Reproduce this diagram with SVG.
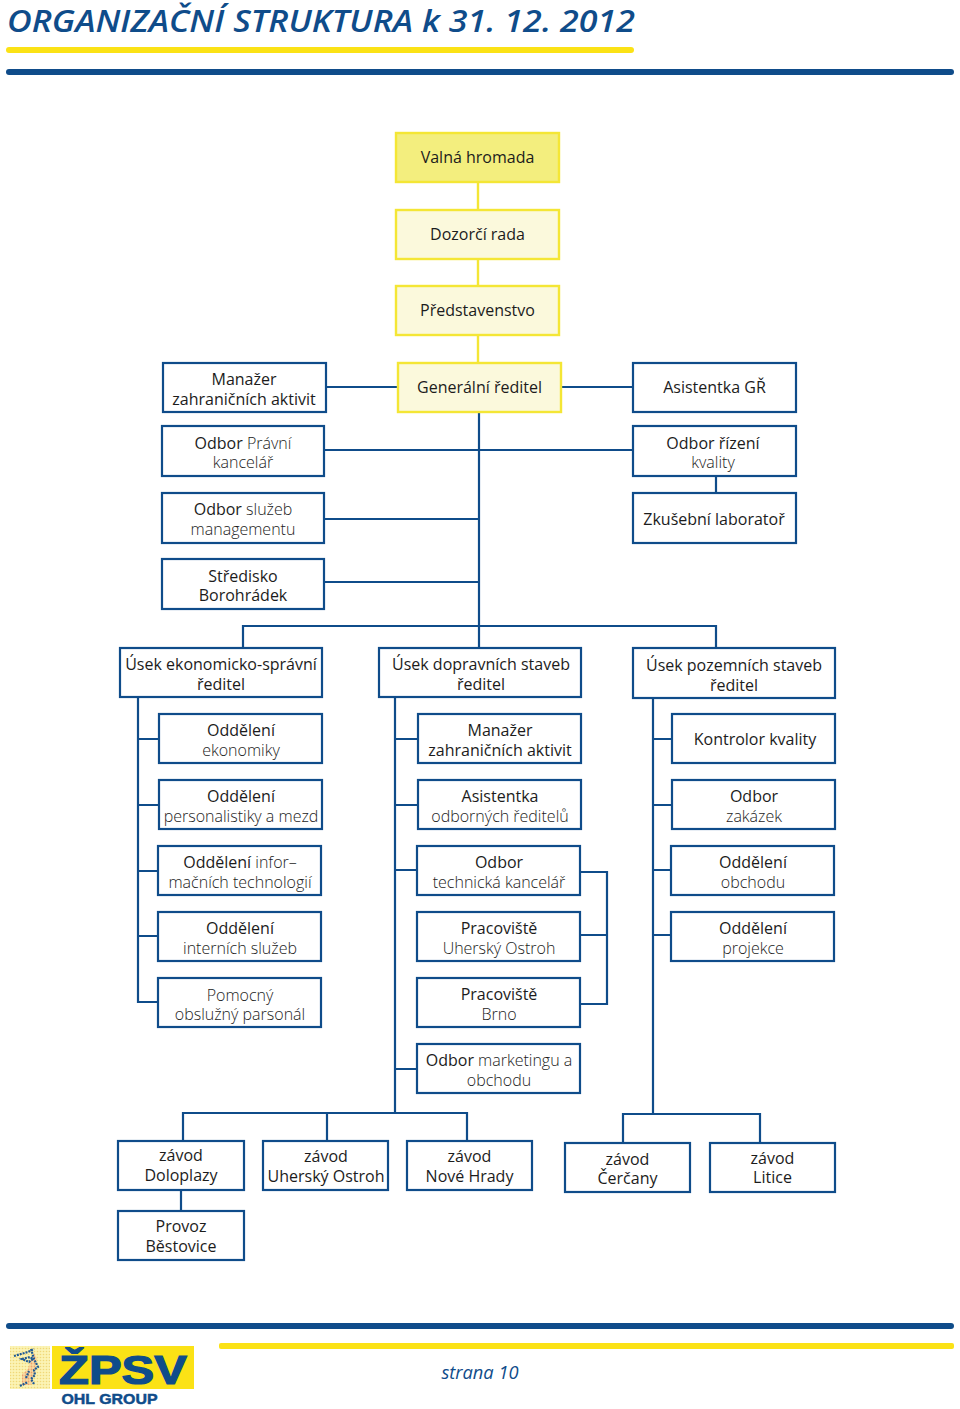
<svg xmlns="http://www.w3.org/2000/svg" width="960" height="1409" viewBox="0 0 960 1409">
<defs>
<pattern id="mos" width="3" height="3" patternUnits="userSpaceOnUse"><rect width="3" height="3" fill="#fbf3b4"/><circle cx="1.5" cy="1.5" r="0.8" fill="#f0d878"/></pattern>
<pattern id="mos2" width="3" height="3" patternUnits="userSpaceOnUse"><rect width="3" height="3" fill="#f7dca0"/><circle cx="1.5" cy="1.5" r="0.9" fill="#ee9f70"/></pattern>
</defs>
<style>
text{font-family:"Open Sans","Noto Sans","Liberation Sans",sans-serif;font-size:16px;text-anchor:middle;fill:#1c1c1c}
.l{font-weight:300;fill:#1c1c1c}
.b rect{fill:#fff;stroke:#0f4c8a;stroke-width:2.2}
.y rect{fill:#fbf9dc;stroke:#f4e635;stroke-width:2.4}
#conn path{fill:none;stroke:#0f4c8a;stroke-width:2.2}
#conn path.yc{stroke:#f4e635;stroke-width:2.4}
.bar{fill:#0f4c8a}.ybar{fill:#fbe216}
</style>
<rect width="960" height="1409" fill="#fff"/>
<text x="7" y="32" textLength="628" lengthAdjust="spacingAndGlyphs" style="font-size:31.5px;font-style:italic;font-weight:600;text-anchor:start;fill:#0f4c8a">ORGANIZAČNÍ STRUKTURA k 31. 12. 2012</text>
<rect class="ybar" x="6" y="47" width="628" height="6" rx="3"/>
<rect class="bar" x="6" y="69" width="948" height="6" rx="3"/>
<g id="conn">
<path class="yc" d="M478 182V210M478 259V286M478 335V363"/>
<path d="M326 387H398M561 387H633M479 412V648M324 450H633M324 519H479M324 582H479M716 476V493M243 648V626H716V648"/>
<path d="M138 697V1002H158M138 739H159M138 805H159M138 871H158M138 936H158"/>
<path d="M395 697V1113M395 739H418M395 805H418M395 870H417M395 1069H417"/>
<path d="M581 872H607V1004H581M581 935H607"/>
<path d="M653 698V1114M653 739H672M653 805H672M653 870H671M653 935H671"/>
<path d="M183 1141V1113H467V1141M327 1113V1141M181 1191V1211"/>
<path d="M623 1143V1114H760V1143"/>
</g>
<g id="n1" class="y"><rect x="396" y="133" width="163" height="49" style="fill:#f3ee7e"/><text x="477.500" y="162.500">Valná hromada</text></g>
<g id="n2" class="y"><rect x="396" y="210" width="163" height="49"/><text x="477.500" y="239.500">Dozorčí rada</text></g>
<g id="n3" class="y"><rect x="396" y="286" width="163" height="49"/><text x="477.500" y="315.500">Představenstvo</text></g>
<g id="n4" class="y"><rect x="398" y="363" width="163" height="49"/><text x="479.500" y="392.500">Generální ředitel</text></g>
<g id="n5" class="b"><rect x="163" y="363" width="163" height="49"/><text x="244" y="385">Manažer</text><text x="244" y="404.500">zahraničních aktivit</text></g>
<g id="n6" class="b"><rect x="633" y="363" width="163" height="49"/><text x="714.500" y="392.500">Asistentka GŘ</text></g>
<g id="n7" class="b"><rect x="162" y="426" width="162" height="50"/><text x="243" y="449">Odbor <tspan class="l">Právní</tspan></text><text x="243" y="468" class="l">kancelář</text></g>
<g id="n8" class="b"><rect x="633" y="426" width="163" height="50"/><text x="713" y="449">Odbor řízení</text><text x="713" y="468" class="l">kvality</text></g>
<g id="n9" class="b"><rect x="162" y="493" width="162" height="50"/><text x="243" y="515">Odbor <tspan class="l">služeb</tspan></text><text x="243" y="535" class="l">managementu</text></g>
<g id="n10" class="b"><rect x="633" y="493" width="163" height="50"/><text x="714" y="525">Zkušební laboratoř</text></g>
<g id="n11" class="b"><rect x="162" y="559" width="162" height="50"/><text x="243" y="581.500">Středisko</text><text x="243" y="601">Borohrádek</text></g>
<g id="n12" class="b"><rect x="120" y="648" width="202" height="49"/><text x="221" y="670">Úsek ekonomicko-správní</text><text x="221" y="689.500">ředitel</text></g>
<g id="n13" class="b"><rect x="379" y="648" width="202" height="49"/><text x="481" y="670">Úsek dopravních staveb</text><text x="481" y="689.500">ředitel</text></g>
<g id="n14" class="b"><rect x="633" y="648" width="202" height="50"/><text x="734" y="671">Úsek pozemních staveb</text><text x="734" y="690.500">ředitel</text></g>
<g id="n15" class="b"><rect x="159" y="714" width="163" height="49"/><text x="241" y="736">Oddělení</text><text x="241" y="756" class="l">ekonomiky</text></g>
<g id="n16" class="b"><rect x="159" y="780" width="163" height="49"/><text x="241" y="802">Oddělení</text><text x="241" y="822" class="l">personalistiky a mezd</text></g>
<g id="n17" class="b"><rect x="158" y="846" width="163" height="49"/><text x="240" y="868">Oddělení <tspan class="l">infor–</tspan></text><text x="240" y="888" class="l">mačních technologií</text></g>
<g id="n18" class="b"><rect x="158" y="912" width="163" height="49"/><text x="240" y="934">Oddělení</text><text x="240" y="954" class="l">interních služeb</text></g>
<g id="n19" class="b"><rect x="158" y="978" width="163" height="49"/><text x="240" y="1001" class="l">Pomocný</text><text x="240" y="1020" class="l">obslužný parsonál</text></g>
<g id="n20" class="b"><rect x="418" y="714" width="163" height="49"/><text x="500" y="736">Manažer</text><text x="500" y="755.500">zahraničních aktivit</text></g>
<g id="n21" class="b"><rect x="418" y="780" width="163" height="49"/><text x="500" y="802">Asistentka</text><text x="500" y="822" class="l">odborných ředitelů</text></g>
<g id="n22" class="b"><rect x="417" y="846" width="163" height="49"/><text x="499" y="868">Odbor</text><text x="499" y="888" class="l">technická kancelář</text></g>
<g id="n23" class="b"><rect x="417" y="912" width="163" height="49"/><text x="499" y="934">Pracoviště</text><text x="499" y="954" class="l">Uherský Ostroh</text></g>
<g id="n24" class="b"><rect x="417" y="978" width="163" height="49"/><text x="499" y="1000">Pracoviště</text><text x="499" y="1020" class="l">Brno</text></g>
<g id="n25" class="b"><rect x="417" y="1044" width="163" height="49"/><text x="499" y="1066">Odbor <tspan class="l">marketingu a</tspan></text><text x="499" y="1086" class="l">obchodu</text></g>
<g id="n26" class="b"><rect x="672" y="714" width="163" height="49"/><text x="755" y="745">Kontrolor kvality</text></g>
<g id="n27" class="b"><rect x="672" y="780" width="163" height="49"/><text x="754" y="802">Odbor</text><text x="754" y="822" class="l">zakázek</text></g>
<g id="n28" class="b"><rect x="671" y="846" width="163" height="49"/><text x="753" y="868">Oddělení</text><text x="753" y="888" class="l">obchodu</text></g>
<g id="n29" class="b"><rect x="671" y="912" width="163" height="49"/><text x="753" y="934">Oddělení</text><text x="753" y="954" class="l">projekce</text></g>
<g id="n30" class="b"><rect x="118" y="1141" width="126" height="49"/><text x="181" y="1161">závod</text><text x="181" y="1181">Doloplazy</text></g>
<g id="n31" class="b"><rect x="263" y="1141" width="125" height="49"/><text x="326" y="1162">závod</text><text x="326" y="1182">Uherský Ostroh</text></g>
<g id="n32" class="b"><rect x="407" y="1141" width="125" height="49"/><text x="469.500" y="1162">závod</text><text x="469.500" y="1182">Nové Hrady</text></g>
<g id="n33" class="b"><rect x="565" y="1143" width="125" height="49"/><text x="627.500" y="1165">závod</text><text x="627.500" y="1184">Čerčany</text></g>
<g id="n34" class="b"><rect x="710" y="1143" width="125" height="49"/><text x="772.500" y="1164">závod</text><text x="772.500" y="1183">Litice</text></g>
<g id="n35" class="b"><rect x="118" y="1211" width="126" height="49"/><text x="181" y="1232">Provoz</text><text x="181" y="1252">Běstovice</text></g>
<rect class="bar" x="6" y="1323" width="948" height="6" rx="3"/>
<rect class="ybar" x="219" y="1343" width="735" height="6" rx="2"/>
<text x="480" y="1379" style="font-size:18.300px;font-style:italic;fill:#0f4c8a">strana 10</text>
<rect x="10" y="1346" width="40" height="43" fill="url(#mos)"/>
<path d="M22 1374l6-5 3-10 3-6 3 6-2 12-4 14h-9z" fill="url(#mos2)"/>
<path d="M14 1356l14-4 6-3M22 1359l8-2 3 2-4 3zM31 1349l3 10 4 8-4 3 1 5-4 4 3 5M26 1378l3-7M20 1386l8-4" fill="none" stroke="#1f5a94" stroke-width="2.200" stroke-dasharray="2 1"/>
<rect x="52" y="1346" width="142" height="43" fill="#fbe216"/>
<text x="123" y="1384" textLength="128" lengthAdjust="spacingAndGlyphs" style="font-family:'Liberation Sans',sans-serif;font-size:40px;font-weight:700;fill:#0f4c8a;stroke:#0f4c8a;stroke-width:1.200">ŽPSV</text>
<text x="109.500" y="1404" textLength="96" lengthAdjust="spacingAndGlyphs" style="font-family:'Liberation Sans',sans-serif;font-size:15px;font-weight:700;fill:#0f4c8a;stroke:#0f4c8a;stroke-width:.5">OHL GROUP</text>
</svg>
